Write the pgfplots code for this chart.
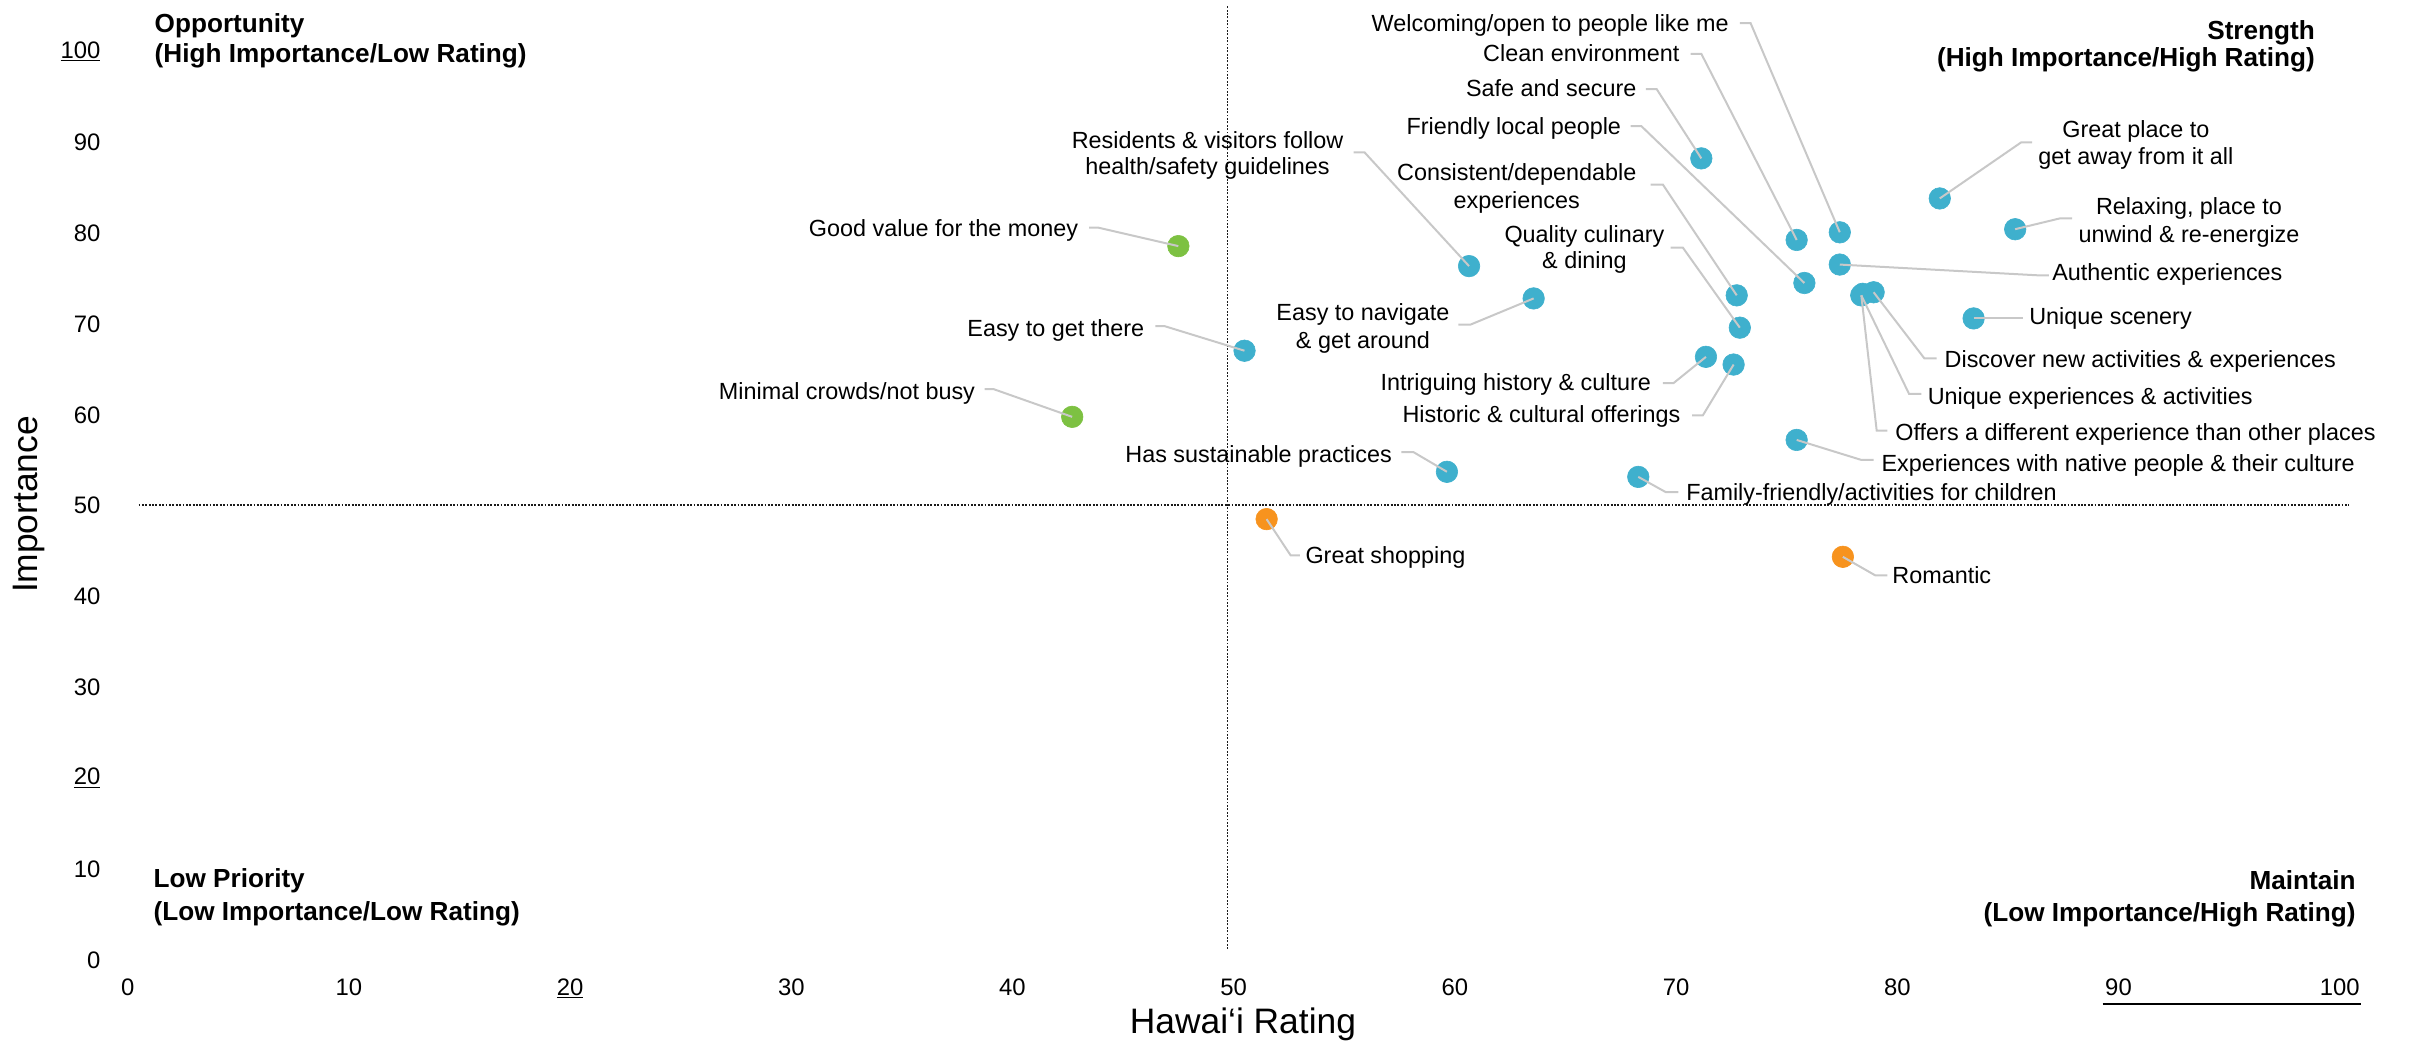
\documentclass[border=0pt]{standalone}
\usepackage{fontspec}
\setmainfont{Liberation Sans}
\usepackage{pgfplots}
\pgfplotsset{compat=1.18}
\definecolor{cblue}{HTML}{3FB0CD}
\definecolor{cgreen}{HTML}{7DC142}
\definecolor{corange}{HTML}{F7931E}
\definecolor{lead}{HTML}{C8C8C8}
\definecolor{dotline}{HTML}{1A1A1A}
\begin{document}
\begin{tikzpicture}
\useasboundingbox (-83pt,-53pt) rectangle (1485pt,624pt);
\begin{axis}[
  at={(0pt,0pt)}, anchor=south west,
  scale only axis, width=1438pt, height=590.4pt,
  xmin=0, xmax=100, ymin=0, ymax=100,
  clip=false,
  axis line style={draw=none},
  major tick length=0pt,
  xtick={0,10,20,30,40,50,60,70,80,90,100},
  ytick={0,10,20,30,40,50,60,70,80,90,100},
  xticklabels={0,10,\underline{20},30,40,50,60,70,80,90,100},
  yticklabels={0,10,\underline{20},30,40,50,60,70,80,90,\underline{100}},
  tick label style={font=\fontsize{15.5}{18}\selectfont, inner sep=0pt},
  xticklabel style={anchor=base, yshift=-23pt},
  yticklabel style={anchor=east, xshift=-17.5pt},
  xlabel={Hawai‘i Rating},
  ylabel={Importance},
  xlabel style={at={(axis description cs:0.5042,-0.0762)}, anchor=mid, font=\fontsize{23}{27}\selectfont, inner sep=0pt},
  ylabel style={at={(axis description cs:-0.0424,0.5014)}, anchor=mid, font=\fontsize{23}{27}\selectfont, inner sep=0pt},
]
% quadrant dividers
\addplot[dotline, line width=1.1pt, dash pattern=on 1.2pt off 1pt] coordinates {(49.72,1.2) (49.72,105.0)};
\addplot[dotline, line width=1.1pt, dash pattern=on 1.2pt off 1pt] coordinates {(0.49,50.1) (100.4,50.1)};
% blue
\addplot[only marks, mark=*, mark size=7pt, color=cblue] coordinates {
 (77.40,80.11) (75.45,79.27) (71.14,88.25) (75.80,74.53) (72.74,73.17)
 (72.88,69.61) (60.64,76.39) (63.56,72.83) (81.92,83.84) (85.33,80.45)
 (77.40,76.56) (83.45,70.63) (78.37,73.17) (78.44,73.34) (78.93,73.51)
 (75.45,57.25) (68.29,53.18) (71.35,66.40) (72.60,65.55) (59.64,53.74)
 (50.49,67.07)
};
% green
\addplot[only marks, mark=*, mark size=7pt, color=cgreen] coordinates {
 (47.50,78.59) (42.70,59.79)
};
% orange
\addplot[only marks, mark=*, mark size=7pt, color=corange] coordinates {
 (51.49,48.53) (77.54,44.38)
};
\end{axis}
\begin{scope}[shift={(-83pt,624pt)}, x=1pt, y=-1pt,
  lab/.style={font=\fontsize{15.2}{17.5}\selectfont, inner sep=0pt, yshift=-3pt},
  qlab/.style={font=\fontsize{17}{20}\selectfont\bfseries, inner sep=0pt, yshift=-3.5pt},
  ld/.style={draw=lead, line width=1.3pt}]
\node[lab,anchor=mid east] at (1124,15) {Welcoming/open to people like me};
\draw[ld] (1131,15)--(1138,15)--(1196,151);
\node[lab,anchor=mid east] at (1092,34.5) {Clean environment};
\draw[ld] (1099,35)--(1106,35)--(1168,156);
\node[lab,anchor=mid east] at (1064,57) {Safe and secure};
\draw[ld] (1070,58)--(1077,58)--(1106,103);
\node[lab,anchor=mid east] at (1054,82) {Friendly local people};
\draw[ld] (1060,82)--(1067,82)--(1173,184);
\node[lab,anchor=mid] at (986,112) {Consistent/dependable};
\node[lab,anchor=mid] at (986,130) {experiences};
\draw[ld] (1073,120)--(1081,120)--(1129,192);
\node[lab,anchor=mid] at (1030,152) {Quality culinary};
\node[lab,anchor=mid] at (1030,169) {\& dining};
\draw[ld] (1086,161)--(1094,161)--(1131,213);
\node[lab,anchor=mid] at (785,90.6) {Residents \& visitors follow};
\node[lab,anchor=mid] at (785,108) {health/safety guidelines};
\draw[ld] (880,99)--(887,99)--(955,173);
\node[lab,anchor=mid east] at (701,148) {Good value for the money};
\draw[ld] (708,148)--(714,148)--(766,160);
\node[lab,anchor=mid east] at (744,213) {Easy to get there};
\draw[ld] (751,212)--(757,212)--(809,228);
\node[lab,anchor=mid east] at (634,254) {Minimal crowds/not busy};
\draw[ld] (640,253)--(646,253)--(697,271);
\node[lab,anchor=mid] at (886,203) {Easy to navigate};
\node[lab,anchor=mid] at (886,220.6) {\& get around};
\draw[ld] (948,211)--(956,211)--(997,194);
\node[lab,anchor=mid east] at (1073.4,248) {Intriguing history \& culture};
\draw[ld] (1081,249)--(1088,249)--(1109,232);
\node[lab,anchor=mid east] at (1092.5,269) {Historic \& cultural offerings};
\draw[ld] (1100,270)--(1107,270)--(1127,237);
\node[lab,anchor=mid east] at (905,295) {Has sustainable practices};
\draw[ld] (911,294)--(919,294)--(940.6,306.7);
\node[lab,anchor=mid west] at (1096,320) {Family-friendly/activities for children};
\draw[ld] (1065,310)--(1083,320)--(1091,320);
\node[lab,anchor=mid west] at (848.5,361) {Great shopping};
\draw[ld] (823.4,337.5)--(839,361)--(845,361);
\node[lab,anchor=mid west] at (1230,374) {Romantic};
\draw[ld] (1198,362)--(1219,374)--(1227,374);
\node[lab,anchor=mid west] at (1223,301) {Experiences with native people \& their culture};
\draw[ld] (1168,286)--(1210,299)--(1218,299);
\node[lab,anchor=mid west] at (1232,281) {Offers a different experience than other places};
\draw[ld] (1210,192)--(1220,280)--(1227,280);
\node[lab,anchor=mid west] at (1253,257) {Unique experiences \& activities};
\draw[ld] (1210,192)--(1241,256)--(1249,256);
\node[lab,anchor=mid west] at (1264,233) {Discover new activities \& experiences};
\draw[ld] (1218,190)--(1251,233)--(1259,233);
\node[lab,anchor=mid west] at (1319,205) {Unique scenery};
\draw[ld] (1283,207)--(1315,207);
\node[lab,anchor=mid west] at (1334,177) {Authentic experiences};
\draw[ld] (1196,172)--(1325,179)--(1332,179);
\node[lab,anchor=mid] at (1423,134) {Relaxing, place to};
\node[lab,anchor=mid] at (1423,152) {unwind \& re-energize};
\draw[ld] (1310,149)--(1339,142)--(1347,142);
\node[lab,anchor=mid] at (1388.5,84) {Great place to};
\node[lab,anchor=mid] at (1388.5,101) {get away from it all};
\draw[ld] (1261,129)--(1314,92.5)--(1321,92.5);
\node[qlab,anchor=mid west] at (100.4,14.7) {Opportunity};
\node[qlab,anchor=mid west] at (100.4,34.7) {(High Importance/Low Rating)};
\node[qlab,anchor=mid east] at (1505,19.5) {Strength};
\node[qlab,anchor=mid east] at (1505,37) {(High Importance/High Rating)};
\node[qlab,anchor=mid west] at (99.7,571) {Low Priority};
\node[qlab,anchor=mid west] at (99.7,592.5) {(Low Importance/Low Rating)};
\node[qlab,anchor=mid east] at (1531.5,571.8) {Maintain};
\node[qlab,anchor=mid east] at (1531.5,592.8) {(Low Importance/High Rating)};
\draw[line width=1.2pt] (1366.8,652.8)--(1535,652.8);
\end{scope}
\end{tikzpicture}
\end{document}
